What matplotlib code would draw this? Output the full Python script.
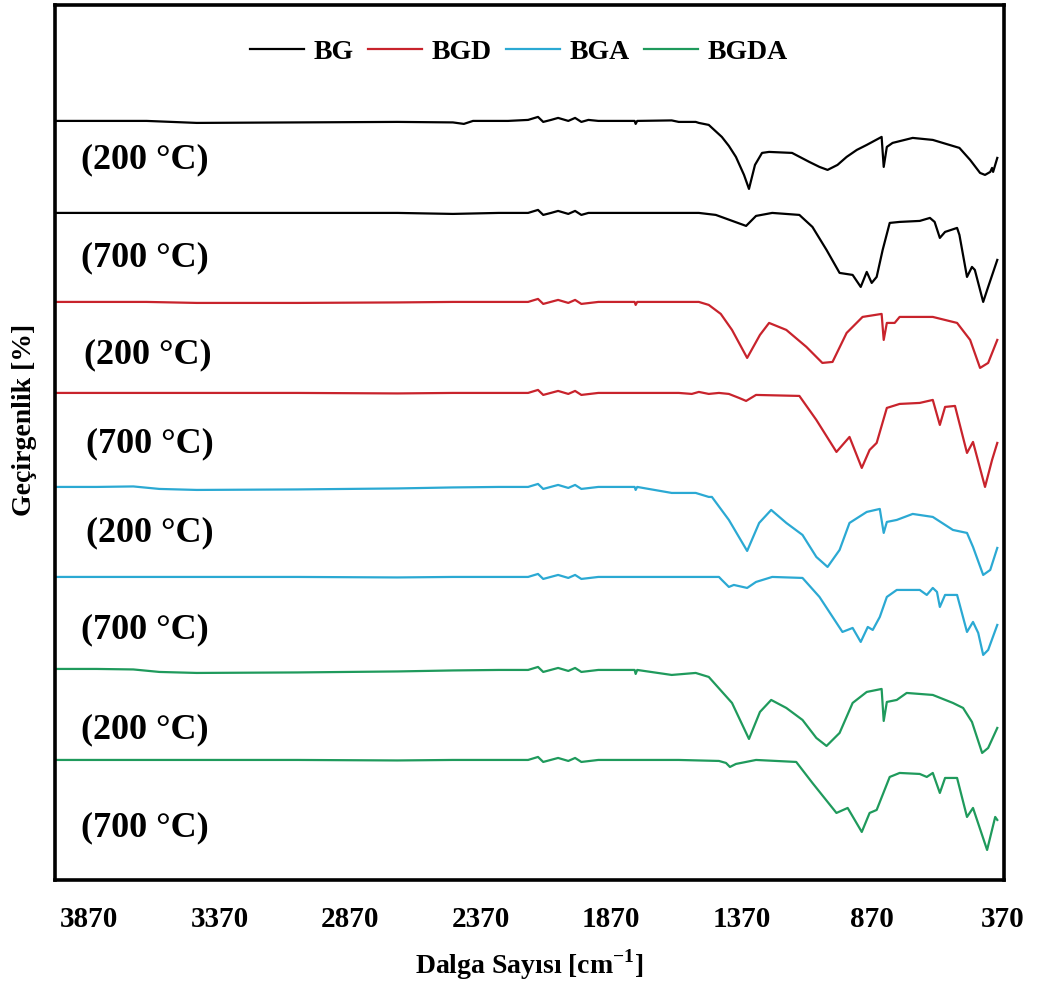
import matplotlib
matplotlib.use("Agg")
import matplotlib.pyplot as plt

plt.rcParams["font.family"] = ["Liberation Serif", "DejaVu Serif"]
plt.rcParams["font.weight"] = "bold"
plt.rcParams["mathtext.fontset"] = "custom"
plt.rcParams["mathtext.rm"] = "Liberation Serif:bold"

# wavenumber ticks shown on the x axis
tick_wn = [3870, 3370, 2870, 2370, 1870, 1370, 870, 370]

# spectra: (wavenumber, transmittance in a.u., stacked)
bg_200_wn = [4000, 3649, 3457, 3072, 2688, 2476, 2434, 2399, 2265, 2188, 2150, 2130, 2100, 2073, 2034,
             2008, 1984, 1957, 1919, 1842, 1780, 1776, 1770, 1638, 1611, 1546, 1534, 1496, 1446, 1419,
             1392, 1361, 1342, 1319, 1292, 1265, 1177, 1111, 1072, 1041, 1003, 968, 929, 891, 834,
             826, 814, 792, 715, 638, 536, 495, 457, 438, 418, 411, 407, 391]
bg_200_t = [759, 759, 757, 757.5, 758, 757.5, 756, 759, 759, 760, 763, 758, 760, 762, 759,
            762, 758, 760, 759, 759, 759, 756, 759, 759.5, 758, 758, 757, 755, 743, 734,
            723, 705, 691, 715, 727, 728, 727, 718, 713, 710, 715, 723, 730, 735, 743,
            713, 733, 737, 742, 740, 732, 720, 707, 705, 708, 712, 708, 722]

bg_700_wn = [4000, 3457, 2688, 2476, 2300, 2188, 2150, 2130, 2100, 2073, 2034, 2008, 1984, 1957, 1842,
             1611, 1534, 1469, 1353, 1315, 1253, 1149, 1099, 1045, 995, 945, 914, 891, 872, 853,
             830, 803, 765, 688, 649, 631, 611, 591, 545, 536, 507, 488, 477, 445, 426, 391]
bg_700_t = [667, 667, 667, 666, 667, 667, 670, 665, 667, 669, 666, 669, 665, 667, 667,
            667, 667, 665, 654, 664, 667, 665, 653, 630, 607, 605, 593, 608, 597, 603,
            630, 657, 658, 659, 662, 658, 642, 648, 652, 645, 603, 613, 610, 578, 593, 620]

bgd_200_wn = [4000, 3649, 3457, 3072, 2688, 2476, 2265, 2188, 2150, 2130, 2073, 2034, 2008, 1984, 1919,
              1780, 1776, 1770, 1611, 1534, 1496, 1450, 1407, 1349, 1300, 1265, 1199, 1122, 1061, 1022,
              968, 907, 834, 826, 814, 784, 765, 638, 545, 495, 457, 426, 391]
bgd_200_t = [578, 578, 577, 577, 577.5, 578, 578, 578, 581, 576, 580, 577, 580, 576, 578,
             578, 575, 578, 578, 578, 575, 566, 550, 522, 545, 557, 550, 533, 517, 518,
             547, 563, 566, 540, 557, 557, 563, 563, 557, 540, 512, 517, 540]

bgd_700_wn = [4000, 3072, 2688, 2476, 2188, 2150, 2130, 2073, 2034, 2008, 1984, 1919, 1611, 1561, 1534,
              1496, 1457, 1419, 1380, 1353, 1315, 1149, 1084, 1007, 957, 910, 880, 853, 814, 765,
              688, 638, 611, 591, 553, 507, 484, 438, 411, 391]
bgd_700_t = [487, 487, 486.5, 487, 487, 490, 485, 489, 486, 489, 485, 487, 487, 486, 488,
             486, 487, 486, 482, 479, 485, 484, 460, 428, 443, 412, 430, 437, 472, 476,
             477, 480, 455, 473, 474, 427, 438, 393, 420, 437]

bga_200_wn = [4000, 3841, 3700, 3600, 3457, 3072, 2688, 2476, 2300, 2188, 2150, 2130, 2073, 2034, 2008,
              1984, 1919, 1780, 1776, 1770, 1638, 1546, 1496, 1484, 1419, 1349, 1303, 1257, 1199, 1137,
              1084, 1041, 995, 957, 891, 841, 826, 814, 776, 715, 638, 561, 507, 484, 445,
              418, 391]
bga_200_t = [393, 393, 393.5, 391, 390, 390.5, 391.5, 392.5, 393, 393, 396, 391, 395, 392, 395,
             391, 393, 393, 390, 393, 387, 387, 383, 383, 360, 329, 357, 370, 357, 345,
             323, 313, 330, 357, 368, 371, 347, 358, 360, 366, 363, 350, 347, 333, 305,
             310, 332]

bga_700_wn = [4000, 3072, 2688, 2476, 2188, 2150, 2130, 2073, 2034, 2008, 1984, 1919, 1611, 1534, 1457,
              1446, 1419, 1400, 1349, 1315, 1253, 1137, 1072, 984, 945, 914, 887, 868, 841, 814,
              776, 688, 661, 638, 622, 611, 591, 545, 507, 484, 464, 445, 426, 391]
bga_700_t = [303, 303, 302.5, 303, 303, 306, 301, 305, 302, 305, 301, 303, 303, 303, 303,
             300, 293, 295, 292, 298, 303, 302, 283, 248, 252, 238, 253, 250, 263, 283,
             290, 290, 285, 292, 288, 273, 285, 285, 248, 258, 247, 225, 230, 255]

bgda_200_wn = [4000, 3841, 3700, 3600, 3457, 3072, 2688, 2476, 2300, 2188, 2150, 2130, 2073, 2034, 2008,
               1984, 1919, 1780, 1776, 1770, 1638, 1546, 1496, 1407, 1342, 1300, 1257, 1199, 1137, 1084,
               1045, 995, 945, 891, 834, 826, 814, 776, 738, 638, 561, 522, 488, 449, 426, 391]
bgda_200_t = [211, 211, 210.5, 208, 207, 207.5, 208.5, 209.5, 210, 210, 213, 208, 212, 209, 212,
              208, 210, 210, 206, 210, 205, 207, 203, 177, 141, 168, 180, 172, 160, 142,
              134, 147, 177, 188, 191, 159, 178, 180, 187, 185, 177, 172, 158, 127, 132, 152]

bgda_700_wn = [4000, 3072, 2688, 2476, 2188, 2150, 2130, 2073, 2034, 2008, 1984, 1919, 1611, 1457, 1430,
               1415, 1392, 1315, 1161, 1099, 1007, 964, 910, 880, 853, 803, 765, 688, 661, 638,
               611, 591, 545, 507, 484, 430, 399, 391]
bgda_700_t = [120, 120, 119.5, 120, 120, 123, 118, 122, 119, 122, 118, 120, 120, 119, 117,
              113, 116, 120, 118, 97, 67, 72, 48, 67, 70, 103, 107, 106, 103, 107,
              87, 102, 102, 63, 72, 30, 63, 60]

samples = ["BG", "BGD", "BGA", "BGDA"]
colors = ["#000000", "#C8232C", "#2BA9D3", "#1F9A5C"]
spectra = [
    (bg_200_wn, bg_200_t, bg_700_wn, bg_700_t),
    (bgd_200_wn, bgd_200_t, bgd_700_wn, bgd_700_t),
    (bga_200_wn, bga_200_t, bga_700_wn, bga_700_t),
    (bgda_200_wn, bgda_200_t, bgda_700_wn, bgda_700_t),
]

# temperature labels (left x in wavenumber, y centre in a.u.)
temp_labels = ["(200 °C)", "(700 °C)"] * 4
temp_x = [3899, 3899, 3888, 3880, 3880, 3899, 3899, 3899]
temp_y = [720, 622, 525, 436, 347, 250, 150, 52]

fig = plt.figure(figsize=(10.37, 9.81), dpi=100)
ax = fig.add_axes([0.053, 0.103, 0.915, 0.892])

for name, col, (w2, t2, w7, t7) in zip(samples, colors, spectra):
    ax.plot(w2, t2, color=col, lw=1.6, label=name)
    ax.plot(w7, t7, color=col, lw=1.6)

for txt, x, y in zip(temp_labels, temp_x, temp_y):
    ax.text(x, y, txt, fontsize=26, fontweight="bold", ha="left", va="center")

ax.set_xlim(4000, 366)
ax.set_ylim(0, 875)
ax.set_xticks(tick_wn)
ax.set_xticklabels([str(t) for t in tick_wn], fontsize=21, fontweight="bold")
ax.tick_params(axis="x", length=0, pad=19)
ax.set_yticks([])
for sp in ax.spines.values():
    sp.set_linewidth(2.6)

ax.set_xlabel("Dalga Sayısı [cm$^{-1}$]", fontsize=20, fontweight="bold")
ax.xaxis.set_label_coords(0.5, -0.077)
ax.set_ylabel("Geçirgenlik [%]", fontsize=20, fontweight="bold")
ax.yaxis.set_label_coords(-0.019, 0.526)

ax.legend(loc="center", bbox_to_anchor=(0.489, 0.946), ncol=4, frameon=False,
          fontsize=20, handlelength=1.95, handletextpad=0.35, columnspacing=0.5)

fig.savefig("out.png", dpi=100)
